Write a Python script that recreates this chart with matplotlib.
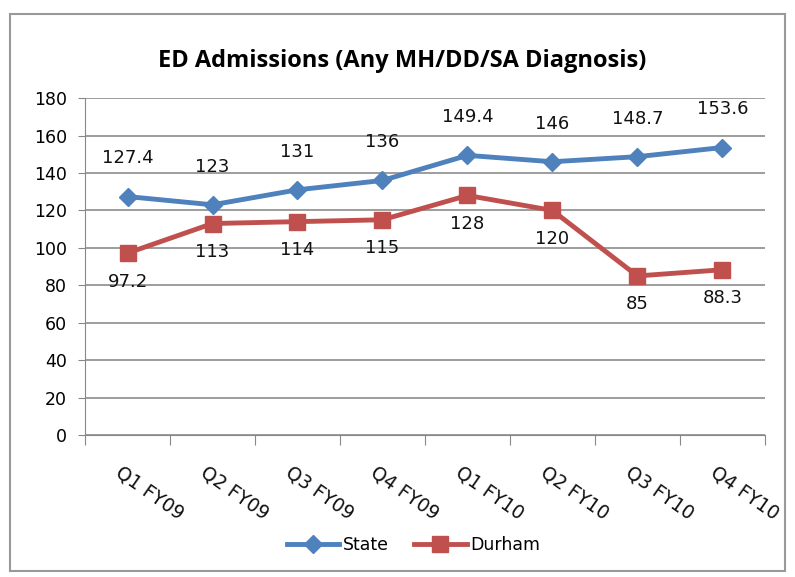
import matplotlib.pyplot as plt
import numpy as np

quarters = ['Q1 FY09', 'Q2 FY09', 'Q3 FY09', 'Q4 FY09', 'Q1 FY10', 'Q2 FY10', 'Q3 FY10', 'Q4 FY10']
state = [127.4, 123, 131, 136, 149.4, 146, 148.7, 153.6]
durham = [97.2, 113, 114, 115, 128, 120, 85, 88.3]
state_labels = ['127.4', '123', '131', '136', '149.4', '146', '148.7', '153.6']
durham_labels = ['97.2', '113', '114', '115', '128', '120', '85', '88.3']

blue = '#4F81BD'
red = '#C0504D'

fig = plt.figure(figsize=(7.95, 5.77), dpi=100)
ax = fig.add_axes([0.107, 0.246, 0.855, 0.584])

x = np.arange(len(quarters)) + 0.5
ax.plot(x, state, color=blue, lw=3.5, marker='D', ms=9, label='State')
ax.plot(x, durham, color=red, lw=3.5, marker='s', ms=12, label='Durham')

for xi, v, s in zip(x, state, state_labels):
    ax.annotate(s, (xi, v), xytext=(0, 21), textcoords='offset points',
                ha='center', va='bottom', fontsize=13, color='#111111')
for xi, v, s in zip(x, durham, durham_labels):
    ax.annotate(s, (xi, v), xytext=(0, -14), textcoords='offset points',
                ha='center', va='top', fontsize=13, color='#111111')

ax.set_xlim(0, 8)
ax.set_ylim(0, 180)
ax.set_yticks(range(0, 181, 20))
ax.set_xticks(range(0, 9))
ax.set_xticklabels([])
ax.tick_params(axis='both', direction='out', length=5, color='#888888', labelsize=12.5)
ax.tick_params(axis='x', length=7)
ax.tick_params(axis='y', pad=8)
ax.grid(axis='y', color='#8c8c8c', lw=1.2)
ax.set_axisbelow(True)
for side in ['top', 'right']:
    ax.spines[side].set_visible(False)
for side in ['left', 'bottom']:
    ax.spines[side].set_color('#888888')

# rotated category labels
for xi, q in zip(x, quarters):
    ax.text(xi - 0.05, -15, q, rotation=-35, rotation_mode='anchor',
            ha='left', va='top', fontsize=13.5, color='#111111')

fig.text(0.506, 0.895, 'ED Admissions (Any MH/DD/SA Diagnosis)', ha='center', va='center',
         fontsize=17, fontweight='bold', family='Open Sans')

fig.legend(loc='center', bbox_to_anchor=(0.52, 0.055), ncol=2, frameon=False,
           fontsize=12.5, handlelength=3, columnspacing=1.5, handletextpad=0.2)

border = plt.Rectangle((0.012, 0.01), 0.976, 0.965, transform=fig.transFigure,
                       fill=False, edgecolor='#999999', lw=1.5)
fig.patches.append(border)

fig.savefig('out.png', dpi=100)
